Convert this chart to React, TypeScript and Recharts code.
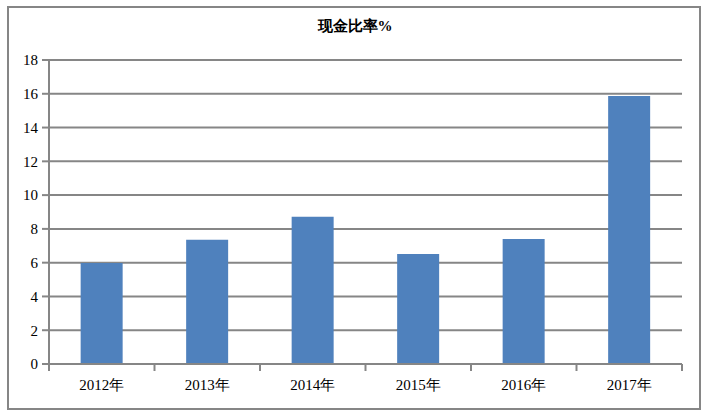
import { BarChart, Bar, XAxis, YAxis, CartesianGrid } from 'recharts'

const CATEGORIES = ['2012年', '2013年', '2014年', '2015年', '2016年', '2017年']
const CASH_RATIO = [5.98, 7.35, 8.72, 6.52, 7.4, 15.87]
const Y_TICKS = [0, 2, 4, 6, 8, 10, 12, 14, 16, 18]

const data = CATEGORIES.map((year, i) => ({ year, value: CASH_RATIO[i] }))

const GRAY = '#868686'
const FONT = 'Liberation Serif, Tinos, DejaVu Serif, serif'

const W = 724
const H = 416
const MARGIN = { top: 60, right: 42, bottom: 22, left: 8 }
const Y_WIDTH = 41
const PLOT_W = W - MARGIN.left - MARGIN.right - Y_WIDTH

function CategoryTick(props: any) {
  const { x, y, payload, index } = props
  const band = PLOT_W / CATEGORIES.length
  const left = x - band / 2
  const isLast = index === CATEGORIES.length - 1
  return (
    <g>
      <line x1={left} y1={y - 8} x2={left} y2={y - 1} stroke={GRAY} strokeWidth={2} />
      {isLast && (
        <line x1={left + band} y1={y - 8} x2={left + band} y2={y - 1} stroke={GRAY} strokeWidth={2} />
      )}
      <text x={x} y={y + 18} textAnchor="middle" fill="#000" fontSize={15} fontFamily={FONT}>
        {payload.value}
      </text>
    </g>
  )
}

export default function App() {
  return (
    <div style={{ position: 'absolute', left: 0, top: 0, width: W, height: H, background: '#fff' }}>
      <div
        style={{
          position: 'absolute',
          left: 7,
          top: 6,
          width: 690,
          height: 400,
          border: `2px solid ${GRAY}`,
        }}
      />
      <div
        style={{
          position: 'absolute',
          left: 0,
          top: 17,
          width: 710,
          textAlign: 'center',
          fontFamily: FONT,
          fontWeight: 'bold',
          fontSize: 15,
          color: '#000',
        }}
      >
        现金比率%
      </div>
      <div style={{ position: 'absolute', left: 0, top: 0 }}>
        <BarChart width={W} height={H} data={data} margin={MARGIN} barCategoryGap="30%">
          <CartesianGrid vertical={false} stroke={GRAY} strokeWidth={2} />
          <XAxis
            dataKey="year"
            axisLine={{ stroke: GRAY, strokeWidth: 2 }}
            tickLine={false}
            tick={<CategoryTick />}
            interval={0}
            height={30}
          />
          <YAxis
            domain={[0, 18]}
            ticks={Y_TICKS}
            width={Y_WIDTH}
            axisLine={{ stroke: GRAY, strokeWidth: 2 }}
            tickLine={{ stroke: GRAY, strokeWidth: 2 }}
            tickSize={7}
            tickMargin={4}
            tick={{ fill: '#000', fontSize: 15, fontFamily: FONT }}
            interval={0}
          />
          <Bar dataKey="value" fill="#4F81BD" isAnimationActive={false} />
        </BarChart>
      </div>
    </div>
  )
}
